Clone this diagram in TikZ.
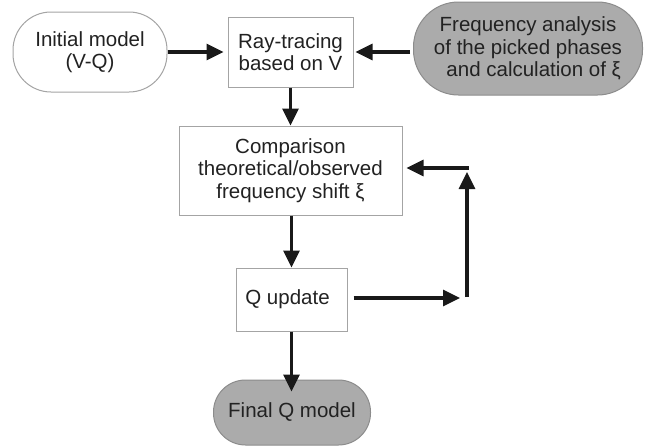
\documentclass[tikz,border=0pt]{standalone}
\usepackage{fontspec}
\setmainfont{Liberation Sans}
\usetikzlibrary{arrows.meta}
\definecolor{boxline}{HTML}{A4A4A4}
\definecolor{ovalfill}{HTML}{ABABAB}
\definecolor{ovalline}{HTML}{8C8C8C}
\definecolor{textcol}{HTML}{222222}
\tikzset{
  every node/.style={font=\fontsize{20.5}{22.5}\selectfont, align=center, inner sep=0pt, text=textcol},
  boxnode/.style={draw=boxline, line width=1pt, fill=white},
  whiteoval/.style={draw=boxline, line width=1pt, fill=white},
  grayoval/.style={draw=ovalline, line width=1pt, fill=ovalfill},
  flow/.style={line width=3.2pt, -{Triangle[length=17pt,width=16pt]}, color=black!90},
}
\begin{document}
\begin{tikzpicture}[x=1pt,y=-1pt]
\useasboundingbox (0,0) rectangle (645,447);
\node[whiteoval, rounded corners=38pt, minimum width=154pt, minimum height=80pt] (init) at (90,52) {Initial model\\(V-Q)};
\node[boxnode, minimum width=125pt, minimum height=70pt] (ray) at (290.5,52) {Ray-tracing\\based on V};
\node[grayoval, rounded corners=45pt, minimum width=229pt, minimum height=93pt] (freq) at (528,48.5) {Frequency analysis\\of the picked phases\\\ \ and calculation of ξ};
\node[boxnode, minimum width=223pt, minimum height=89pt] (comp) at (290.5,170.5) {Comparison\\theoretical/observed\\frequency shift ξ};
\node[boxnode, minimum width=111pt, minimum height=63pt] (qup) at (291.5,299.5) {\hspace*{-8pt}Q update};
\node[grayoval, rounded corners=32pt, minimum width=157pt, minimum height=65pt] (final) at (292,412.5) {Final Q model};
\coordinate (qend) at (460,298);
\coordinate (vbot) at (467,297);
\coordinate (vtop) at (467,172);
\coordinate (corner) at (468.6,168);

\draw[flow] (init.east) -- ([xshift=-4pt]ray.west);
\draw[flow] ([xshift=-3pt]freq.west |- ray.east) -- ([xshift=2pt]ray.east);
\draw[flow] (ray.south) -- (comp.north);
\draw[flow] (comp.south -| qup.north) -- (qup.north);
\draw[flow] ([xshift=6pt]qup.east |- qend) -- (qend);
\draw[flow] (vbot) -- (vtop);
\draw[flow] (corner) -- ([xshift=4pt]comp.east |- corner);
\draw[flow] (qup.south) -- ([yshift=-12pt]qup.south |- final.north);
\end{tikzpicture}
\end{document}
